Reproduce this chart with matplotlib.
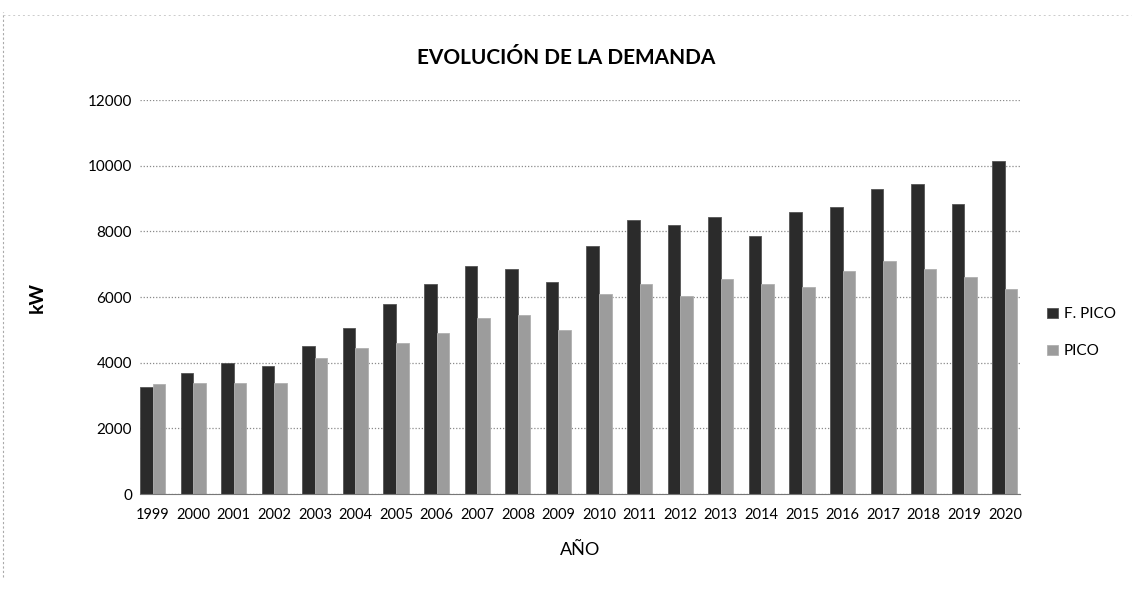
import matplotlib
matplotlib.use("Agg")
import matplotlib.pyplot as plt
import numpy as np

years = [str(y) for y in range(1999, 2021)]
f_pico = [3250, 3700, 4000, 3900, 4500, 5050, 5800, 6400, 6950, 6850, 6450,
          7550, 8350, 8200, 8450, 7850, 8600, 8750, 9300, 9450, 8850, 10150]
pico = [3350, 3400, 3400, 3400, 4150, 4450, 4600, 4900, 5350, 5450, 5000,
        6100, 6400, 6050, 6550, 6400, 6300, 6800, 7100, 6850, 6600, 6250]
series_names = ["F. PICO", "PICO"]
y_ticks = [0, 2000, 4000, 6000, 8000, 10000, 12000]

plt.rcParams['font.family'] = ['Lato', 'DejaVu Sans']

fig = plt.figure(figsize=(11.32, 5.89), dpi=100)
ax = fig.add_axes([0.124, 0.161, 0.777, 0.669])

x = np.arange(len(years))
w = 0.31
b1 = ax.bar(x - w / 2, f_pico, w, color='#2b2b2b', edgecolor='#555555', linewidth=0.6, label=series_names[0])
b2 = ax.bar(x + w / 2, pico, w, color='#9c9c9c', edgecolor='#b0b0b0', linewidth=0.6, label=series_names[1])

ax.set_ylim(0, 12000)
ax.set_xlim(-0.3, 21.37)
ax.set_yticks(y_ticks)
ax.set_yticklabels([str(t) for t in y_ticks], fontsize=11)
ax.set_xticks(x)
ax.set_xticklabels(years, fontsize=10.5)
ax.tick_params(axis='both', length=0, pad=6)
ax.tick_params(axis='x', pad=10)
ax.yaxis.grid(True, color='#8a8a8a', linestyle=(0, (1, 1.5)), linewidth=0.9)
ax.set_axisbelow(True)
for s in ['top', 'right', 'left']:
    ax.spines[s].set_visible(False)
ax.spines['bottom'].set_color('#777777')
ax.spines['bottom'].set_linestyle((0, (2, 1)))

ax.set_ylabel('kW', fontsize=14, fontweight='bold', labelpad=30)
ax.set_xlabel('AÑO', fontsize=13, labelpad=14)
fig.text(0.5, 0.902, 'EVOLUCIÓN DE LA DEMANDA', ha='center', va='center',
         fontsize=15, fontweight='bold')

leg = fig.legend(handles=[b1, b2], loc='center left', bbox_to_anchor=(0.913, 0.435),
                 frameon=False, fontsize=11, handlelength=0.7, handleheight=0.7,
                 handletextpad=0.4, labelspacing=1.5)

# faint scanned frame
fig.add_artist(plt.Line2D([0.003, 0.003], [0.02, 0.98], transform=fig.transFigure,
                          color='#aaaaaa', linestyle=(0, (2, 2)), linewidth=0.8))
fig.add_artist(plt.Line2D([0.003, 0.999], [0.975, 0.975], transform=fig.transFigure,
                          color='#cccccc', linestyle=(0, (2, 3)), linewidth=0.7))

fig.savefig('out.png', dpi=100)
